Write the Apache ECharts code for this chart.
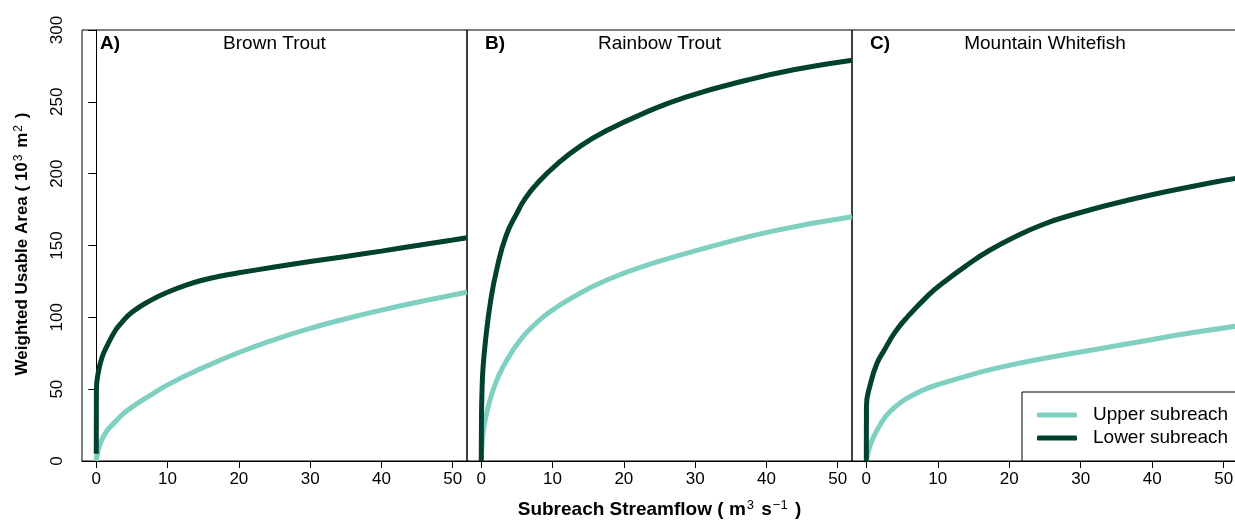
<!DOCTYPE html>
<html>
<head>
<meta charset="utf-8">
<script src="https://cdn.jsdelivr.net/npm/echarts@6/dist/echarts.min.js"></script>
<style>
  html, body { margin: 0; padding: 0; background: #fff; }
  #chart { width: 1235px; height: 521px; }
</style>
</head>
<body>
<div id="chart"></div>
<script>
// Panel labels and species
const panelLetters = ['A)', 'B)', 'C)'];
const panelSpecies = ['Brown Trout', 'Rainbow Trout', 'Mountain Whitefish'];
const seriesNames = ['Upper subreach', 'Lower subreach'];
const xTickValues = [0, 10, 20, 30, 40, 50];

// Weighted usable area (10^3 m^2) vs subreach streamflow (m^3 s^-1): [flow, WUA]
const brownUpper = [[0,0],[0.2,6],[0.8,15],[1.5,21],[2.7,27.5],[3.8,33],[5,37.5],[7.5,45.5],[10,53],[15,65],[20,75.5],[25,84.5],[30,92.3],[35,99],[40,105],[45,110.5],[50,115.5],[52,117.5]];
const brownLower = [[0,5],[0.02,50],[0.3,62],[0.8,72],[1.5,80],[2.7,91],[3.5,96],[5,103.5],[7.5,111.5],[10,117.5],[12.5,122.3],[15,126],[17.5,128.8],[20,131],[25,135],[30,138.8],[35,142.4],[40,146.1],[45,150],[50,153.8],[52,155.4]];
const rainbowUpper = [[0,0],[0.1,10],[0.33,22],[0.7,32],[1.2,42],[2,54],[3,65],[4.5,77.5],[6,87.5],[7.5,95],[9,101.5],[12.5,113],[17.6,126],[24,137.5],[32,149],[41.4,160.5],[52,170]];
const rainbowLower = [[0,0],[0.03,30],[0.1,48],[0.25,65],[0.6,84],[1.3,111],[2.2,134],[3.5,157],[5,172.5],[6.2,183],[8,194],[10.6,206.5],[14,219.5],[17.6,230],[22.75,242],[28.8,253.5],[37.2,265],[44,272.5],[52,279]];
const whitefishUpper = [[0,0],[0.3,7],[0.7,13],[1.3,19.5],[2.7,31],[4,37.5],[5.5,43],[8,49.5],[10.6,54],[15,60.5],[19,65.5],[25,71.5],[31.6,77.3],[38,82.8],[44.2,88.2],[52,94]];
const whitefishLower = [[0,0],[0.02,38],[0.6,54],[1.5,68],[2.5,77],[4,89.5],[5.7,100],[8.8,116],[10.6,123.5],[14,136],[17.2,146.5],[21.4,157.5],[24.5,164.2],[27.9,170],[36.7,181.7],[47.5,193],[52,197]];

const upperSets = [brownUpper, rainbowUpper, whitefishUpper];
const lowerSets = [brownLower, rainbowLower, whitefishLower];

const upperColor = '#7fd0c0';
const lowerColor = '#00412f';
const font = '"Liberation Sans", Arial, Helvetica, sans-serif';

// Panel layout
const panelLefts = [82, 467, 852];
const panelWidths = [385, 385, 386];
const plotTop = 30;
const plotHeight = 431;

const grids = [], xAxes = [], yAxes = [], series = [], graphics = [];

panelLefts.forEach((left, i) => {
  grids.push({
    left: left, top: plotTop, width: panelWidths[i], height: plotHeight,
    show: true, borderColor: '#000', borderWidth: 1, backgroundColor: 'transparent',
    containLabel: false, outerBoundsMode: 'none'
  });
  xAxes.push({
    gridIndex: i, type: 'value', min: -2, max: 52,
    axisLine: { show: true, onZero: false, lineStyle: { color: '#000', width: 1 } },
    axisTick: { show: true, inside: false, length: 7, customValues: xTickValues, lineStyle: { color: '#000', width: 1 } },
    axisLabel: { customValues: xTickValues, fontSize: 17, color: '#000', margin: 10, fontFamily: font },
    splitLine: { show: false }
  });
  yAxes.push({
    gridIndex: i, type: 'value', min: 0, max: 300, interval: 50,
    show: i === 0,
    axisLine: { show: true, lineStyle: { color: '#000', width: 1 } },
    axisTick: { show: true, inside: false, length: 8, lineStyle: { color: '#000', width: 1 } },
    axisLabel: { rotate: 90, fontSize: 17, color: '#000', margin: 16, fontFamily: font },
    splitLine: { show: false }
  });
  series.push({
    type: 'line', name: seriesNames[0], xAxisIndex: i, yAxisIndex: i,
    data: upperSets[i], symbol: 'none', showSymbol: false,
    smooth: 0.5, color: upperColor,
    lineStyle: { width: 5, color: upperColor }, silent: true, z: 2
  });
  series.push({
    type: 'line', name: seriesNames[1], xAxisIndex: i, yAxisIndex: i,
    data: lowerSets[i], symbol: 'none', showSymbol: false,
    smooth: 0.5, color: lowerColor,
    lineStyle: { width: 5, color: lowerColor }, silent: true, z: 3
  });
  // panel letter and species name
  graphics.push({
    type: 'text', left: left + 18, top: 34, z: 10,
    style: { text: panelLetters[i], font: 'bold 19px ' + font, fill: '#000' }
  });
  graphics.push({
    type: 'text', x: left + panelWidths[i] / 2, y: 44, z: 10,
    style: { text: panelSpecies[i], font: '19px ' + font, fill: '#000', align: 'center', verticalAlign: 'middle' }
  });
});

// Axis titles with superscripts
graphics.push({
  type: 'text', x: 22, y: 244, rotation: Math.PI / 2, z: 10,
  style: {
    text: '{b|Weighted Usable Area ( 10}{s|3}{b| m}{s|2}{b| )}',
    align: 'center', verticalAlign: 'middle',
    rich: {
      b: { fontSize: 17, fontWeight: 'bold', fontFamily: font, fill: '#000', lineHeight: 18, verticalAlign: 'bottom' },
      s: { fontSize: 12, fontFamily: font, fill: '#000', lineHeight: 12, verticalAlign: 'top', padding: [0, 2, 0, 1] }
    }
  }
});
graphics.push({
  type: 'text', x: 659.5, y: 509, z: 10,
  style: {
    text: '{b|Subreach Streamflow ( m}{s|3}{b| s}{s|\u22121}{b| )}',
    align: 'center', verticalAlign: 'middle',
    rich: {
      b: { fontSize: 19, fontWeight: 'bold', fontFamily: font, fill: '#000', lineHeight: 20, verticalAlign: 'bottom' },
      s: { fontSize: 13, fontFamily: font, fill: '#000', lineHeight: 14, verticalAlign: 'top', padding: [0, 2, 0, 1] }
    }
  }
});

const chart = echarts.init(document.getElementById('chart'), null, { renderer: 'canvas' });
chart.setOption({
  animation: false,
  backgroundColor: '#fff',
  textStyle: { fontFamily: font },
  grid: grids,
  xAxis: xAxes,
  yAxis: yAxes,
  series: series,
  legend: {
    orient: 'vertical', left: 1022, top: 392, z: 20,
    data: seriesNames, selectedMode: false,
    icon: 'roundRect', itemWidth: 40, itemHeight: 5, itemGap: 3,
    padding: [13, 15, 13, 15],
    borderColor: '#000', borderWidth: 1, borderRadius: 0, backgroundColor: '#fff',
    textStyle: { fontSize: 19, color: '#000', fontFamily: font, lineHeight: 20, padding: [0, 0, 0, 11] }
  },
  graphic: graphics
});
</script>
</body>
</html>
